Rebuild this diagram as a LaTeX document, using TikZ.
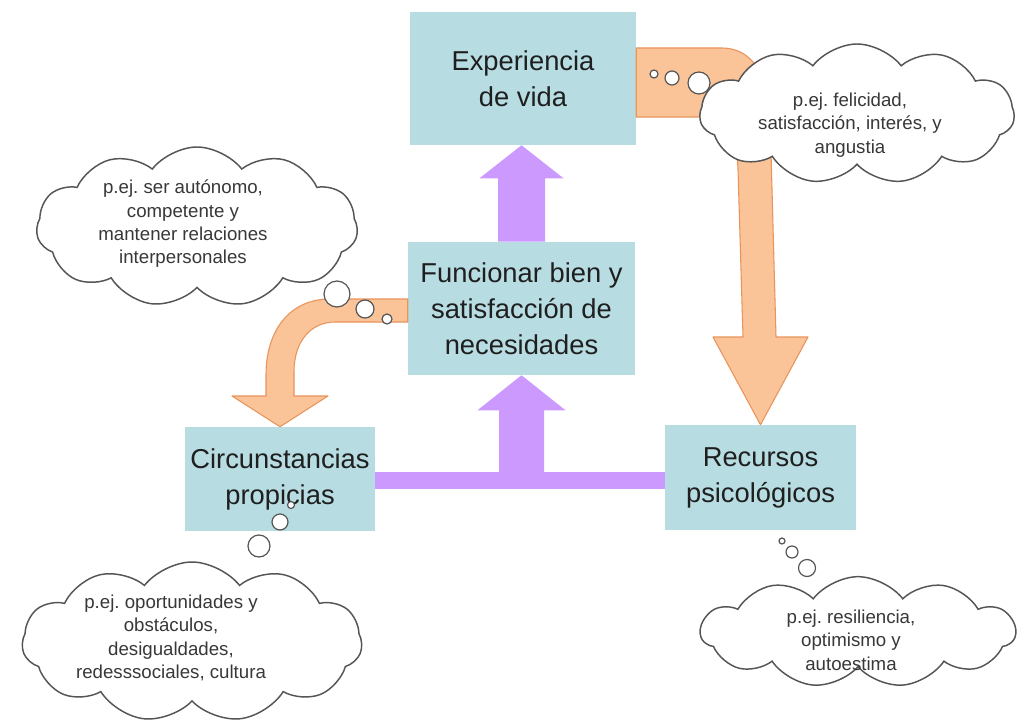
\documentclass[tikz,border=0pt]{standalone}
\usepackage{fontspec}
\setmainfont{Liberation Sans}
\usetikzlibrary{shapes.symbols,calc}
\definecolor{cajaazul}{RGB}{183,221,227}
\definecolor{morado}{RGB}{204,153,255}
\definecolor{naranjaf}{RGB}{250,196,152}
\definecolor{naranjab}{RGB}{232,148,92}
\definecolor{gris}{RGB}{85,85,85}
\frenchspacing

\begin{document}
\begin{tikzpicture}[x=0.75pt,y=-0.75pt,
  caja/.style={rectangle,fill=cajaazul,text=black!88,align=center,inner sep=0pt,font=\fontsize{20.5}{27}\selectfont},
  nube/.style={cloud,cloud puffs=11,cloud puff arc=105,cloud ignores aspect,draw=gris,fill=white,line width=1.1pt,inner sep=0pt},
  nota/.style={align=center,text=black!78,font=\fontsize{14}{17.5}\selectfont},
  burbuja/.style={circle,draw=gris,fill=white,line width=0.9pt,inner sep=0pt},
  flecha/.style={fill=naranjaf,draw=naranjab,line width=0.8pt,line join=round}]

\fill[white] (0,0) rectangle (1019,727);
\useasboundingbox (0,0) rectangle (1019,727);

% cajas
\node[caja,minimum width=169.5pt,minimum height=99.75pt] (exp) at (523,78.5) {Experiencia\\de vida};
\node[caja,minimum width=170.25pt,minimum height=99.75pt] (func) at (521.5,308.5) {Funcionar bien y\\satisfacción de\\necesidades};
\node[caja,minimum width=142.5pt,minimum height=78pt] (circ) at (280,479) {Circunstancias\\propicias};
\node[caja,minimum width=143.25pt,minimum height=78.75pt] (rec) at (760.5,477.5) {Recursos\\psicológicos};

% flechas moradas
\fill[morado] ($(func.north)+(-23.5,0)$) -- ($(func.north |- exp.south)+(-23.5,33)$) -- ($(func.north |- exp.south)+(-42,33)$) -- (func.north |- exp.south) -- ($(func.north |- exp.south)+(42,33)$) -- ($(func.north |- exp.south)+(23.5,33)$) -- ($(func.north)+(23.5,0)$) -- cycle;
\fill[morado] ($(circ.east)+(0,-7.5)$) rectangle ($(circ.east -| rec.west)+(0,9.5)$);
\fill[morado] ($(func.south |- circ.east)+(-22.5,0)$) -- ($(func.south)+(-22.5,35)$) -- ($(func.south)+(-44,35)$) -- (func.south) -- ($(func.south)+(44,35)$) -- ($(func.south)+(22.5,35)$) -- ($(func.south |- circ.east)+(22.5,0)$) -- cycle;

% flechas naranjas
\draw[flecha] ($(exp.east)+(0,-30.5)$) -- (722,48) .. controls (750,48) and (768,72) .. (770,115) -- (776,337) -- (808,337) -- (rec.north) -- (713,337) -- (743,337) -- (738,170) .. controls (737,135) and (725,117) .. (700,117) -- ($(exp.east)+(0,38.5)$) -- cycle;
\draw[flecha] ($(func.west)+(0,-9.5)$) -- (330,299) .. controls (290,299) and (266,330) .. (266,375) -- (266,396) -- (232,396) -- (circ.north) -- (328,396) -- (294,396) -- (294,372) .. controls (294,340) and (312,322) .. (335,322) -- ($(func.west)+(0,13.5)$) -- cycle;

% nubes
\node[nube,minimum width=236pt,minimum height=105pt] (nExp) at (857,114) {};
\node[nota] (tExp) at (850,125) {p.ej. felicidad,\\satisfacción, interés, y\\angustia};
\node[nube,minimum width=241pt,minimum height=120pt] (nFunc) at (197,227) {};
\node[nota] (tFunc) at (183,224) {p.ej. ser autónomo,\\competente y\\mantener relaciones\\interpersonales};
\node[nube,minimum width=255pt,minimum height=120pt] (nCirc) at (192,642) {};
\node[nota] (tCirc) at (171,638) {p.ej. oportunidades y\\obstáculos,\\desigualdades,\\redesssociales, cultura};
\node[nube,minimum width=236pt,minimum height=83pt] (nRec) at (858,632) {};
\node[nota] (tRec) at (851,640) {p.ej. resiliencia,\\optimismo y\\autoestima};

% burbujas
\node[burbuja,minimum size=6pt] (bExp1) at (654,74) {};
\node[burbuja,minimum size=10.5pt] (bExp2) at (672,78) {};
\node[burbuja,minimum size=16.5pt] (bExp3) at (699,83) {};
\node[burbuja,minimum size=19.5pt] (bFunc1) at (337,294) {};
\node[burbuja,minimum size=13.5pt] (bFunc2) at (365,309) {};
\node[burbuja,minimum size=7.5pt] (bFunc3) at (387,319) {};
\node[burbuja,minimum size=5.25pt] (bCirc1) at (291,505) {};
\node[burbuja,minimum size=12pt] (bCirc2) at (280,522) {};
\node[burbuja,minimum size=16.5pt] (bCirc3) at (259,546) {};
\node[burbuja,minimum size=4.5pt] (bRec1) at (782,541) {};
\node[burbuja,minimum size=9pt] (bRec2) at (792,552) {};
\node[burbuja,minimum size=12.75pt] (bRec3) at (807,568) {};
\end{tikzpicture}
\end{document}
